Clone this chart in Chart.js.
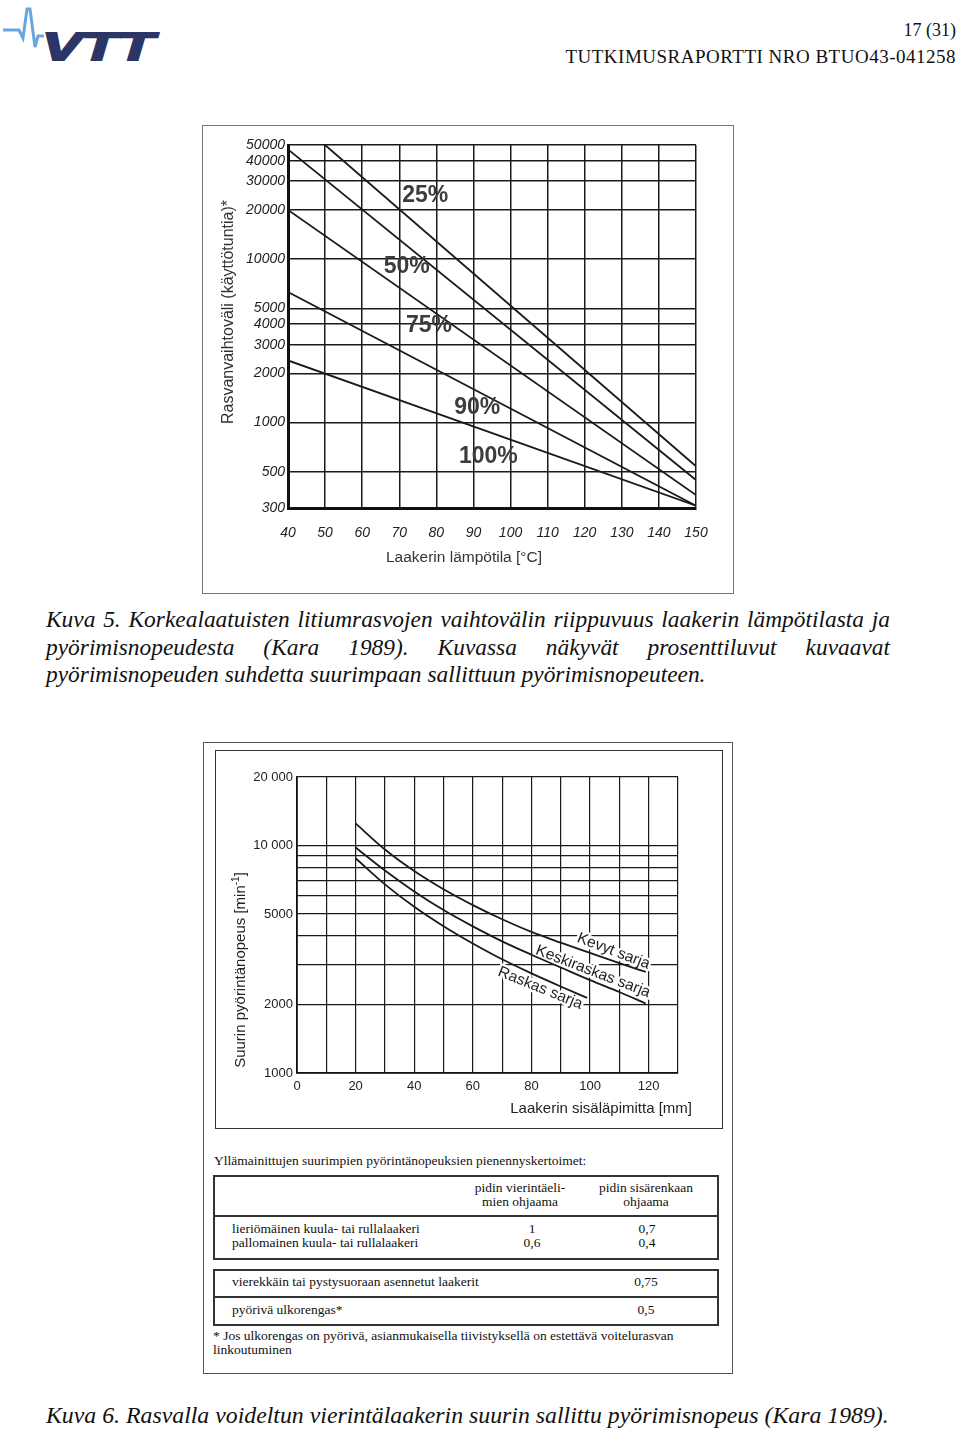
<!DOCTYPE html>
<html>
<head>
<meta charset="utf-8">
<script src="https://cdn.jsdelivr.net/npm/chart.js@4.4.1/dist/chart.umd.min.js"></script>
<style>
  body { margin: 0; background: #fff; }
  #page { position: relative; width: 960px; height: 1430px; overflow: hidden; font-family: "Liberation Serif", serif; color: #111; }
  .hdr { position: absolute; right: 4px; font-size: 18px; line-height: 20px; white-space: nowrap; }
  .frame { position: absolute; box-sizing: border-box; }
  .cap { position: absolute; left: 46px; width: 844px; font-style: italic; font-size: 23.4px; line-height: 27.5px; white-space: nowrap; }
  .cap .j { text-align: justify; text-align-last: justify; }
  .t { position: absolute; font-size: 13.5px; line-height: 14px; color: #111; white-space: nowrap; }
  .c { transform: translateX(-50%); text-align: center; }
  canvas { position: absolute; }
</style>
</head>
<body>
<div id="page">
  <svg width="170" height="70" style="position:absolute;left:0;top:0">
    <polyline points="3,30 19,30 23,38 27,9 30,9 35,47 38,36 44,36" fill="none" stroke="#6aa6dd" stroke-width="3"/>
    <text x="42" y="60" font-family="Liberation Sans" font-weight="bold" font-style="italic" font-size="38" fill="#2c3566" stroke="#2c3566" stroke-width="2" textLength="112" lengthAdjust="spacingAndGlyphs">VTT</text>
  </svg>
  <div class="hdr" style="top:20px">17 (31)</div>
  <div class="hdr" style="top:47px;font-size:19px;letter-spacing:0.5px">TUTKIMUSRAPORTTI NRO BTUO43-041258</div>

  <div class="frame" style="left:202px;top:125px;width:532px;height:469px;border:1px solid #777"></div>
  <canvas id="chart1" width="529" height="466" style="left:203px;top:126px;width:529px;height:466px"></canvas>

  <div class="cap" style="top:606px">
    <div class="j">Kuva 5. Korkealaatuisten litiumrasvojen vaihtovälin riippuvuus laakerin lämpötilasta ja</div>
    <div class="j">pyörimisnopeudesta (Kara 1989). Kuvassa näkyvät prosenttiluvut kuvaavat</div>
    <div>pyörimisnopeuden suhdetta suurimpaan sallittuun pyörimisnopeuteen.</div>
  </div>

  <div class="frame" style="left:203px;top:742px;width:530px;height:632px;border:1px solid #555"></div>
  <div class="frame" style="left:215px;top:750px;width:508px;height:379px;border:1.5px solid #333"></div>
  <canvas id="chart2" width="505" height="376" style="left:216px;top:751px;width:505px;height:376px"></canvas>

  <div class="t" style="left:214px;top:1154px">Yllämainittujen suurimpien pyörintänopeuksien pienennyskertoimet:</div>
  <div class="frame" style="left:213px;top:1175px;width:506px;height:85px;border:2px solid #333"></div>
  <div class="frame" style="left:213px;top:1215px;width:506px;height:2px;background:#333"></div>
  <div class="t c" style="left:520px;top:1181px">pidin vierintäeli-<br>mien ohjaama</div>
  <div class="t c" style="left:646px;top:1181px">pidin sisärenkaan<br>ohjaama</div>
  <div class="t" style="left:232px;top:1222px">lieriömäinen kuula- tai rullalaakeri<br>pallomainen kuula- tai rullalaakeri</div>
  <div class="t c" style="left:532px;top:1222px">1<br>0,6</div>
  <div class="t c" style="left:647px;top:1222px">0,7<br>0,4</div>
  <div class="frame" style="left:213px;top:1269px;width:506px;height:57px;border:2px solid #333"></div>
  <div class="frame" style="left:213px;top:1296px;width:506px;height:2px;background:#333"></div>
  <div class="t" style="left:232px;top:1275px">vierekkäin tai pystysuoraan asennetut laakerit</div>
  <div class="t c" style="left:646px;top:1275px">0,75</div>
  <div class="t" style="left:232px;top:1303px">pyörivä ulkorengas*</div>
  <div class="t c" style="left:646px;top:1303px">0,5</div>
  <div class="t" style="left:213px;top:1329px">* Jos ulkorengas on pyörivä, asianmukaisella tiivistyksellä on estettävä voitelurasvan<br>linkoutuminen</div>

  <div class="cap" style="top:1402px;font-size:23.8px">Kuva 6. Rasvalla voideltun vierintälaakerin suurin sallittu pyörimisnopeus (Kara 1989).</div>
</div>

<script>
// chart 1: grease change interval vs bearing temperature
const tempTicks = [40, 50, 60, 70, 80, 90, 100, 110, 120, 130, 140, 150];
const hourTicks = [300, 500, 1000, 2000, 3000, 4000, 5000, 10000, 20000, 30000, 40000, 50000];
const pctLabels = ['25%', '50%', '75%', '90%', '100%'];
const startTemp = [50, 40, 40, 40, 40];
const startHours = [50000, 47000, 20000, 6300, 2400];
const endTemp = [150, 150, 150, 150, 150];
const endHours = [540, 445, 360, 310, 310];
const labelTemp = [77, 72, 78, 91, 94];
const labelHours = [24500, 9000, 3900, 1230, 615];

// chart 2: max speed vs bore diameter
const boreTicks = [0, 10, 20, 30, 40, 50, 60, 70, 80, 90, 100, 110, 120, 130];
const speedTicks = [1000, 2000, 3000, 4000, 5000, 6000, 7000, 8000, 9000, 10000, 20000];
const speedLabelled = [1000, 2000, 5000, 10000, 20000];
const kevytBore = [20, 30, 40, 50, 60, 70, 80, 90, 100, 110, 119];
const kevytSpeed = [12500, 9600, 7720, 6420, 5470, 4740, 4170, 3740, 3370, 3040, 2780];
const keskiBore = [20, 30, 40, 50, 60, 70, 80, 90, 100, 110, 119];
const keskiSpeed = [9800, 7760, 6280, 5200, 4410, 3790, 3310, 2910, 2560, 2270, 2020];
const raskasBore = [20, 30, 40, 50, 60, 70, 80, 90, 99];
const raskasSpeed = [8790, 6750, 5380, 4420, 3710, 3160, 2740, 2400, 2140];
const seriesNames = ['Kevyt sarja', 'Keskiraskas sarja', 'Raskas sarja'];
const nameBore = [108, 101, 83];
const nameSpeed = [3430, 2790, 2360];

const SANS = '"Liberation Sans", Arial, sans-serif';
const INK = '#1a1a1a';

function pts(xs, ys) {
  return xs.map((x, i) => ({ x, y: ys[i] }));
}

// chart 1
const texts1 = {
  id: 'texts1',
  afterDatasetsDraw(chart) {
    const { ctx, chartArea: a, scales: { x, y } } = chart;
    ctx.save();
    ctx.fillStyle = '#3c3c3c';
    ctx.font = 'bold 23px ' + SANS;
    ctx.textAlign = 'center';
    ctx.textBaseline = 'middle';
    pctLabels.forEach((t, i) => {
      ctx.fillText(t, x.getPixelForValue(labelTemp[i]), y.getPixelForValue(labelHours[i]));
    });
    ctx.fillStyle = '#333';
    ctx.font = '15.5px ' + SANS;
    ctx.fillText('Laakerin lämpötila [°C]', a.left + 176, a.bottom + 50);
    ctx.translate(a.left - 59, a.top + 167);
    ctx.rotate(-Math.PI / 2);
    ctx.font = '16px ' + SANS;
    ctx.fillText('Rasvanvaihtoväli (käyttötuntia)*', 0, 0);
    ctx.restore();
  }
};

new Chart(document.getElementById('chart1'), {
  type: 'line',
  data: {
    datasets: pctLabels.map((t, i) => ({
      label: t,
      data: pts([startTemp[i], endTemp[i]], [startHours[i], endHours[i]]),
      borderColor: INK,
      borderWidth: 1.8,
      pointRadius: 0,
      fill: false
    }))
  },
  options: {
    responsive: false,
    devicePixelRatio: 1,
    animation: false,
    layout: { padding: { top: 19, right: 36, left: 0, bottom: 0 } },
    plugins: { legend: { display: false }, tooltip: { enabled: false } },
    scales: {
      x: {
        type: 'linear', min: 40, max: 150,
        afterBuildTicks: s => { s.ticks = tempTicks.map(v => ({ value: v })); },
        afterFit: s => { s.height = 84; },
        grid: { color: INK, lineWidth: 1.5, drawTicks: false },
        border: { color: '#111', width: 3 },
        ticks: { padding: 17, color: '#222', autoSkip: false, maxRotation: 0,
          font: { family: SANS, style: 'italic', size: 14 } }
      },
      y: {
        type: 'logarithmic', min: 300, max: 50000,
        afterBuildTicks: s => { s.ticks = hourTicks.map(v => ({ value: v })); },
        afterFit: s => { s.width = 85; },
        grid: { color: INK, lineWidth: 1.5, drawTicks: false },
        border: { color: '#111', width: 3 },
        ticks: { padding: 3, color: '#222', autoSkip: false, callback: v => String(v),
          font: { family: SANS, style: 'italic', size: 14 } }
      }
    }
  },
  plugins: [texts1]
});

// chart 2
const nameAngles = [21, 21, 22];
const texts2 = {
  id: 'texts2',
  beforeDatasetsDraw(chart) {
    const { ctx, scales: { x, y } } = chart;
    ctx.save();
    ctx.font = '15.5px ' + SANS;
    ctx.textAlign = 'center';
    ctx.textBaseline = 'middle';
    seriesNames.forEach((t, i) => {
      ctx.save();
      ctx.translate(x.getPixelForValue(nameBore[i]), y.getPixelForValue(nameSpeed[i]));
      ctx.rotate(nameAngles[i] * Math.PI / 180);
      ctx.strokeStyle = '#fff';
      ctx.lineWidth = 5;
      ctx.lineJoin = 'round';
      ctx.strokeText(t, 0, 0);
      ctx.fillStyle = '#1e1e1e';
      ctx.fillText(t, 0, 0);
      ctx.restore();
    });
    ctx.restore();
  },
  afterDatasetsDraw(chart) {
    const { ctx, chartArea: a } = chart;
    ctx.save();
    ctx.fillStyle = '#222';
    ctx.font = '15px ' + SANS;
    ctx.textBaseline = 'middle';
    ctx.textAlign = 'right';
    ctx.fillText('Laakerin sisäläpimitta [mm]', a.right + 14, a.bottom + 36);
    // rotated y title with superscript
    ctx.translate(a.left - 56, a.top + 193);
    ctx.rotate(-Math.PI / 2);
    ctx.textAlign = 'left';
    const main = 'Suurin pyörintänopeus [min';
    const sup = '-1';
    ctx.font = '15px ' + SANS;
    const w1 = ctx.measureText(main).width;
    const w3 = ctx.measureText(']').width;
    ctx.font = '10px ' + SANS;
    const w2 = ctx.measureText(sup).width;
    let px = -(w1 + w2 + w3) / 2;
    ctx.font = '15px ' + SANS;
    ctx.fillText(main, px, 0);
    px += w1;
    ctx.font = '10px ' + SANS;
    ctx.fillText(sup, px, -5);
    px += w2;
    ctx.font = '15px ' + SANS;
    ctx.fillText(']', px, 0);
    ctx.restore();
  }
};

function series(xs, ys, name) {
  return {
    label: name,
    data: pts(xs, ys),
    borderColor: INK,
    borderWidth: 1.8,
    pointRadius: 0,
    fill: false,
    cubicInterpolationMode: 'monotone'
  };
}

new Chart(document.getElementById('chart2'), {
  type: 'line',
  data: {
    datasets: [
      series(kevytBore, kevytSpeed, seriesNames[0]),
      series(keskiBore, keskiSpeed, seriesNames[1]),
      series(raskasBore, raskasSpeed, seriesNames[2])
    ]
  },
  options: {
    responsive: false,
    devicePixelRatio: 1,
    animation: false,
    layout: { padding: { top: 26, right: 43, left: 0, bottom: 0 } },
    plugins: { legend: { display: false }, tooltip: { enabled: false } },
    scales: {
      x: {
        type: 'linear', min: 0, max: 130,
        afterBuildTicks: s => { s.ticks = boreTicks.map(v => ({ value: v })); },
        afterFit: s => { s.height = 54; },
        grid: { color: INK, lineWidth: 1.2, drawTicks: false },
        border: { color: '#111', width: 1.8 },
        ticks: { padding: 6, color: '#222', autoSkip: false, maxRotation: 0,
          callback: v => (v % 20 === 0 && v <= 120 ? String(v) : ''),
          font: { family: SANS, size: 13 } }
      },
      y: {
        type: 'logarithmic', min: 1000, max: 20000,
        afterBuildTicks: s => { s.ticks = speedTicks.map(v => ({ value: v })); },
        afterFit: s => { s.width = 81; },
        grid: { color: INK, lineWidth: 1.2, drawTicks: false },
        border: { color: '#111', width: 1.8 },
        ticks: { padding: 4, color: '#222', autoSkip: false,
          callback: v => (speedLabelled.includes(v) ? (v >= 10000 ? String(v).replace(/(\d\d)(\d{3})$/, '$1 $2') : String(v)) : ''),
          font: { family: SANS, size: 13 } }
      }
    }
  },
  plugins: [texts2]
});
</script>
</body>
</html>
